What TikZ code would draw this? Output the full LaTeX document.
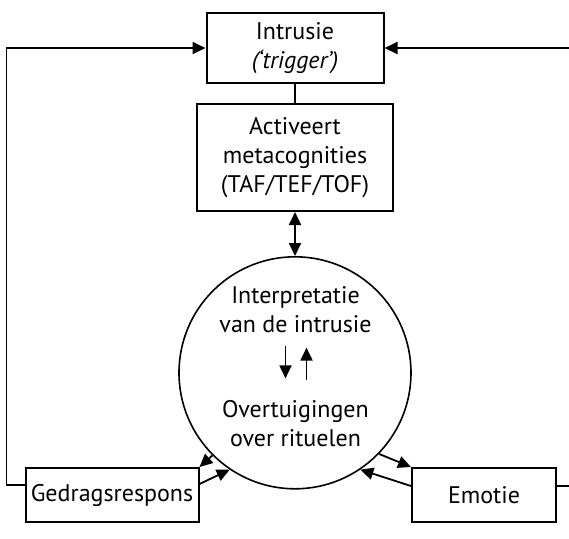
\documentclass[tikz,border=0pt]{standalone}
\usepackage{fontspec}
\setmainfont{PT Sans}
\usepackage{tikz}
\usetikzlibrary{positioning, arrows.meta}

\begin{document}
\begin{tikzpicture}[
        x=0.5pt, y=-0.5pt,
        font=\fontsize{12}{14.5}\selectfont,
        box/.style={draw, rectangle, line width=1pt, align=center, inner sep=2pt},
        bol/.style={draw, circle, line width=0.8pt, minimum size=116pt, inner sep=0pt},
        txt/.style={align=center, inner sep=1pt},
        arr/.style={-{Triangle[length=6.5pt, width=6pt]}, line width=0.9pt},
        darr/.style={{Triangle[length=6.5pt, width=6pt]}-{Triangle[length=6.5pt, width=6pt]}, line width=0.9pt}
    ]
    \useasboundingbox (0,0) rectangle (569,538);

    \node[box, minimum width=88.5pt, minimum height=35pt] (intr) at (295,48) {Intrusie\\\textit{(‘trigger’)}};
    \node[box, minimum width=98pt, minimum height=53.5pt] (activ) [below=9.5pt of intr] {Activeert\\metacognities\\(TAF/TEF/TOF)};
    \node[bol] (circ) [below=22pt of activ] {};
    \node[txt] (interp) at (295.5,310) {Interpretatie\\van de intrusie};
    \node[txt] (overt) at (295.5,424) {Overtuigingen\\over rituelen};

    \node[box, minimum width=86.5pt, minimum height=27pt] (gedrag) at (112,495) {Gedragsrespons};
    \node[box, minimum width=72pt, minimum height=27pt] (emot) at (484,495) {Emotie};

    % verbindingen
    \draw[line width=0.9pt] (intr) -- (activ);
    \draw[darr] (activ) -- (circ);
    \draw[arr, shorten <=5pt, shorten >=10pt] ([xshift=-5pt]interp.south) -- ([xshift=-5pt]overt.north);
    \draw[arr, shorten <=9pt, shorten >=6pt] ([xshift=5.5pt]overt.north) -- ([xshift=5.5pt]interp.south);

    % terugkoppeling
    \draw[arr] (circ.-135) -- (gedrag.north east);
    \draw[arr] ([yshift=5.5pt]gedrag.east) -- (circ.-124);
    \draw[arr] (circ.-44) -- (emot.north west);
    \draw[arr] ([yshift=4.5pt]emot.west) -- (circ.-56);

    % lussen naar de intrusie
    \draw[arr] ([yshift=5pt]gedrag.west) -- ++(-9pt,0) |- (intr.west);
    \draw[arr] ([yshift=4.5pt]emot.east) -- ++(8pt,0) |- (intr.east);

\end{tikzpicture}
\end{document}
